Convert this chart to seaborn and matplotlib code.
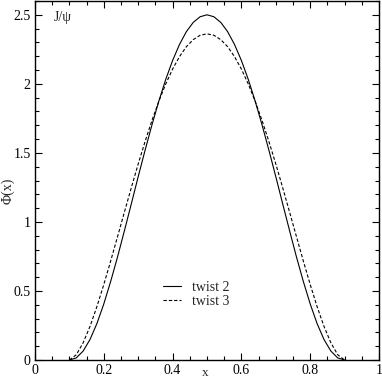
import pandas as pd
import matplotlib
matplotlib.use("Agg")
import matplotlib.pyplot as plt
import seaborn as sns
from matplotlib.ticker import MultipleLocator, FuncFormatter

# Values (curves are symmetric about x = 0.5)
x_vals = [0.10, 0.12, 0.14, 0.16, 0.18, 0.20, 0.22, 0.24, 0.26, 0.28,
          0.30, 0.32, 0.34, 0.36, 0.38, 0.40, 0.42, 0.44, 0.46, 0.48,
          0.50, 0.52, 0.54, 0.56, 0.58, 0.60, 0.62, 0.64, 0.66, 0.68,
          0.70, 0.72, 0.74, 0.76, 0.78, 0.80, 0.82, 0.84, 0.86, 0.88, 0.90]

twist2_half = [0.0, 0.015, 0.065, 0.149, 0.264, 0.406, 0.569, 0.747, 0.937, 1.131,
               1.328, 1.519, 1.703, 1.875, 2.032, 2.169, 2.285, 2.378, 2.445, 2.486]
twist2_peak = 2.5

twist3_half = [0.0, 0.038, 0.125, 0.244, 0.387, 0.547, 0.717, 0.894, 1.072, 1.248,
               1.420, 1.582, 1.735, 1.874, 1.999, 2.107, 2.197, 2.269, 2.320, 2.352]
twist3_peak = 2.362

twist2 = twist2_half + [twist2_peak] + twist2_half[::-1]
twist3 = twist3_half + [twist3_peak] + twist3_half[::-1]

df = pd.DataFrame({"x": x_vals, "twist 2": twist2, "twist 3": twist3})

sns.set_theme(style="ticks")
plt.rcParams["font.family"] = ["Liberation Serif", "DejaVu Serif"]

fig = plt.figure(figsize=(3.82, 3.82), dpi=100)
ax = fig.add_axes([35 / 382, 22 / 382, 344 / 382, 359 / 382])

sns.lineplot(data=df, x="x", y="twist 2", ax=ax, color="black", lw=0.8,
             label="twist 2", sort=False)
sns.lineplot(data=df, x="x", y="twist 3", ax=ax, color="black", lw=0.8,
             linestyle=(0, (3, 1.8)), label="twist 3", sort=False)

ax.set_xlim(0, 1)
ax.set_ylim(0, 2.6)
ax.xaxis.set_major_locator(MultipleLocator(0.2))
ax.xaxis.set_minor_locator(MultipleLocator(0.05))
ax.yaxis.set_major_locator(MultipleLocator(0.5))
ax.yaxis.set_minor_locator(MultipleLocator(0.1))
fmt = FuncFormatter(lambda v, p: "%g" % round(v, 3))
ax.xaxis.set_major_formatter(fmt)
ax.yaxis.set_major_formatter(fmt)
ax.tick_params(which="both", direction="in", top=True, right=True,
               color="black", labelsize=10, labelcolor="black")
ax.tick_params(which="major", length=5, width=0.8, pad=3)
ax.tick_params(which="minor", length=2.8, width=0.8)
for s in ax.spines.values():
    s.set_linewidth(1.0)
    s.set_color("black")

ax.set_xlabel("x", fontsize=9.5)
ax.xaxis.set_label_coords(0.494, -0.02)
ax.set_ylabel("Φ(x)", fontsize=10)
ax.yaxis.set_label_coords(-0.06, 0.47)
ax.text(0.055, 0.955, "J/ψ", transform=ax.transAxes, fontsize=10,
        ha="left", va="center")

leg = ax.legend(loc="upper left", bbox_to_anchor=(0.373, 0.22), frameon=False,
                fontsize=10, handlelength=1.3, handletextpad=0.8,
                labelspacing=0.05, borderpad=0, borderaxespad=0)

fig.savefig("out.png", dpi=100)
